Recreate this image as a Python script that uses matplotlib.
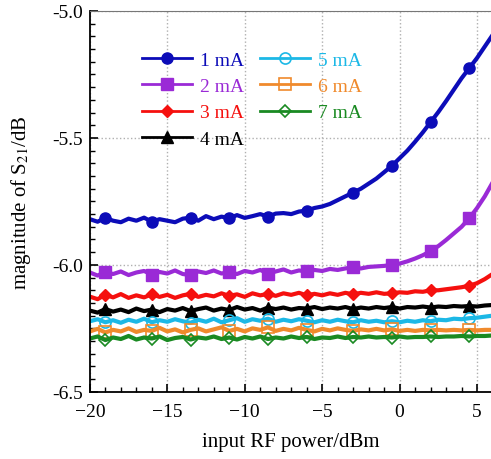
import matplotlib
matplotlib.use("Agg")
import matplotlib.pyplot as plt
import numpy as np

plt.rcParams["font.family"] = ["Liberation Serif", "DejaVu Serif"]
plt.rcParams["mathtext.fontset"] = "stix"

# input RF power grid, dBm
power = np.arange(-20, 6.01, 0.5)

s21_1ma = [-5.820, -5.830, -5.815, -5.826, -5.832, -5.818, -5.826, -5.814, -5.830, -5.820,
           -5.826, -5.832, -5.818, -5.814, -5.826, -5.808, -5.820, -5.810, -5.816, -5.804,
           -5.815, -5.808, -5.800, -5.810, -5.798, -5.796, -5.800, -5.790, -5.786, -5.776,
           -5.770, -5.760, -5.745, -5.730, -5.715, -5.700, -5.680, -5.660, -5.635, -5.610,
           -5.580, -5.550, -5.515, -5.478, -5.438, -5.398, -5.355, -5.310, -5.265, -5.225,
           -5.185, -5.140, -5.095]
s21_2ma = [-6.030, -6.042, -6.028, -6.036, -6.026, -6.040, -6.030, -6.024, -6.038, -6.028,
           -6.034, -6.022, -6.036, -6.040, -6.026, -6.032, -6.022, -6.034, -6.028, -6.036,
           -6.024, -6.030, -6.020, -6.034, -6.026, -6.018, -6.030, -6.022, -6.026, -6.020,
           -6.024, -6.016, -6.020, -6.014, -6.010, -6.014, -6.008, -6.006, -6.004, -6.000,
           -5.995, -5.986, -5.975, -5.962, -5.946, -5.926, -5.902, -5.876, -5.850, -5.816,
           -5.776, -5.730, -5.676]
s21_3ma = [-6.125, -6.135, -6.118, -6.128, -6.115, -6.130, -6.120, -6.128, -6.116, -6.126,
           -6.118, -6.130, -6.120, -6.114, -6.126, -6.118, -6.124, -6.112, -6.122, -6.116,
           -6.126, -6.112, -6.120, -6.114, -6.122, -6.112, -6.118, -6.110, -6.120, -6.114,
           -6.120, -6.112, -6.118, -6.110, -6.116, -6.110, -6.114, -6.108, -6.114, -6.112,
           -6.108, -6.110, -6.104, -6.106, -6.100, -6.100, -6.096, -6.092, -6.088, -6.082,
           -6.072, -6.056, -6.036]
s21_4ma = [-6.180, -6.188, -6.174, -6.184, -6.176, -6.186, -6.172, -6.182, -6.176, -6.186,
           -6.174, -6.180, -6.170, -6.182, -6.174, -6.168, -6.180, -6.172, -6.178, -6.166,
           -6.176, -6.170, -6.180, -6.168, -6.174, -6.168, -6.176, -6.170, -6.172, -6.166,
           -6.174, -6.168, -6.172, -6.166, -6.174, -6.168, -6.172, -6.166, -6.170, -6.166,
           -6.172, -6.166, -6.168, -6.164, -6.168, -6.164, -6.166, -6.162, -6.164, -6.162,
           -6.164, -6.160, -6.158]
s21_5ma = [-6.222, -6.214, -6.226, -6.218, -6.228, -6.216, -6.224, -6.212, -6.226, -6.218,
           -6.224, -6.214, -6.222, -6.228, -6.216, -6.224, -6.212, -6.226, -6.218, -6.210,
           -6.224, -6.214, -6.220, -6.212, -6.224, -6.216, -6.222, -6.214, -6.220, -6.226,
           -6.218, -6.224, -6.216, -6.222, -6.226, -6.218, -6.224, -6.220, -6.226, -6.222,
           -6.226, -6.220, -6.224, -6.218, -6.222, -6.216, -6.218, -6.212, -6.214, -6.210,
           -6.208, -6.204, -6.200]
s21_6ma = [-6.262, -6.252, -6.266, -6.256, -6.262, -6.250, -6.264, -6.256, -6.260, -6.248,
           -6.262, -6.254, -6.266, -6.256, -6.250, -6.262, -6.254, -6.246, -6.260, -6.252,
           -6.262, -6.250, -6.256, -6.246, -6.260, -6.252, -6.258, -6.248, -6.256, -6.262,
           -6.252, -6.258, -6.250, -6.256, -6.260, -6.254, -6.258, -6.252, -6.258, -6.254,
           -6.260, -6.256, -6.260, -6.256, -6.258, -6.256, -6.258, -6.256, -6.258, -6.256,
           -6.258, -6.256, -6.256]
s21_7ma = [-6.290, -6.282, -6.296, -6.286, -6.292, -6.280, -6.294, -6.286, -6.290, -6.282,
           -6.296, -6.288, -6.284, -6.294, -6.286, -6.290, -6.282, -6.292, -6.286, -6.294,
           -6.284, -6.290, -6.282, -6.292, -6.286, -6.290, -6.282, -6.288, -6.284, -6.292,
           -6.286, -6.288, -6.282, -6.288, -6.284, -6.286, -6.282, -6.286, -6.284, -6.286,
           -6.282, -6.286, -6.284, -6.284, -6.282, -6.284, -6.282, -6.282, -6.280, -6.282,
           -6.280, -6.280, -6.278]

labels = ["1 mA", "2 mA", "3 mA", "4 mA", "5 mA", "6 mA", "7 mA"]
series = [s21_1ma, s21_2ma, s21_3ma, s21_4ma, s21_5ma, s21_6ma, s21_7ma]
colors = ["#0c0cb8", "#9a2ad6", "#f5100e", "#000000", "#1cb8e6", "#f08a2c", "#1a8a22"]
markers = ["o", "s", "D", "^", "o", "s", "D"]
filled = [True, True, True, True, False, False, False]
mark_idx = [2, 8, 13, 18, 23, 28, 34, 39, 44, 49]

fig = plt.figure(figsize=(4.91, 4.60), dpi=100)
ax = fig.add_axes([0.183, 0.146, 0.817, 0.828])

for y, lab, c, m, f in zip(series, labels, colors, markers, filled):
    ms = 8 if m != "D" else 6.5
    ax.plot(power, y, color=c, lw=3.0, marker=m, markersize=ms, markevery=mark_idx,
            markerfacecolor=c if f else "none", markeredgecolor=c,
            markeredgewidth=1.0 if f else 1.2, label=lab)

ax.set_xlim(-20, 5.9)
ax.set_ylim(-6.5, -5.0)
ax.set_xticks([-20, -15, -10, -5, 0, 5])
ax.set_yticks([-6.5, -6.0, -5.5, -5.0])
ax.set_xticks(np.arange(-20, 6, 1), minor=True)
ax.set_yticks(np.arange(-6.5, -4.99, 0.05), minor=True)
ax.yaxis.set_major_formatter(matplotlib.ticker.FormatStrFormatter("%.1f"))
ax.tick_params(which="both", direction="in", labelsize=14, top=False, right=False)
ax.tick_params(which="major", length=6, width=1.2)
ax.tick_params(which="minor", length=3.5, width=1.0)
ax.tick_params(axis="x", which="major", pad=8)
ax.tick_params(axis="y", which="major", pad=5)
ax.grid(True, which="major", linestyle=":", color="#b0b0b0", lw=1.0)

ax.spines["right"].set_visible(False)
ax.spines["top"].set_color("#777777")
ax.spines["left"].set_linewidth(1.3)
ax.spines["bottom"].set_linewidth(1.3)

ax.set_xlabel("input RF power/dBm", fontsize=15, labelpad=9)
ax.set_ylabel("magnitude of S$_{21}$/dB", fontsize=15, labelpad=14)

leg = ax.legend(ncol=2, frameon=False, loc="upper left", bbox_to_anchor=(0.11, 0.915),
                fontsize=14, handlelength=2.6, labelspacing=0.45, columnspacing=0.8,
                handletextpad=0.4, borderaxespad=0)
for txt, c in zip(leg.get_texts(), colors):
    txt.set_color(c)
for ln in leg.get_lines():
    ln.set_linewidth(2.0)

plt.savefig("out.png", dpi=100)
